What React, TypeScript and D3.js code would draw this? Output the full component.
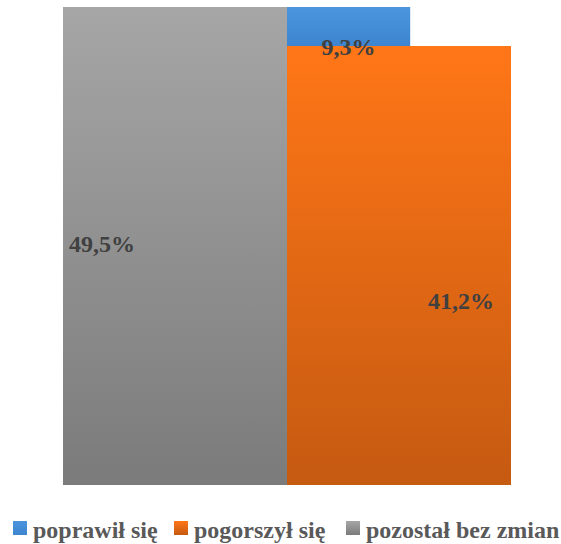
import React from "react";
import * as d3 from "d3";

// Categories and shares (%)
const categories = ["poprawił się", "pogorszył się", "pozostał bez zmian"];
const values = [9.3, 41.2, 49.5];
const valueLabels = ["9,3%", "41,2%", "49,5%"];
// Column each category sits in, and the stacked base within that column
const columns = ["right", "right", "left"];
const stackBase = [41.2, 0, 0];

const colorStops: [string, string][] = [
  ["#4b95de", "#3d86cf"],
  ["#ff7617", "#c55a11"],
  ["#a6a6a6", "#7b7b7b"],
];

const W = 561;
const H = 544;

export default function App() {
  const plot = { left: 63, right: 511, top: 7, bottom: 485 };
  const x = d3
    .scaleBand<string>()
    .domain(["left", "right"])
    .range([plot.left, plot.right])
    .padding(0);
  const y = d3.scaleLinear().domain([-52.2, 49.5]).range([plot.bottom, plot.top]);

  const bars = categories.map((c, i) => {
    const x0 = x(columns[i])!;
    const bw = i === 0 ? x.bandwidth() * 0.55 : x.bandwidth();
    const y1 = Math.max(y(stackBase[i] + values[i]), plot.top);
    const y0 = stackBase[i] === 0 ? plot.bottom : y(stackBase[i]);
    return { c, i, x0, bw, y0, y1 };
  });

  // Label anchors relative to each bar
  const labelPos = [
    (b: any) => [b.x0 + b.bw / 2, b.y0 + 1],
    (b: any) => [b.x0 + b.bw * 0.777, (b.y0 + b.y1) / 2 + 35],
    (b: any) => [b.x0 + 39, (b.y0 + b.y1) / 2 - 2],
  ];

  const legendX = [13, 174, 346];

  return (
    <svg width={W} height={H} style={{ position: "absolute", left: 0, top: 0 }}>
      <defs>
        {colorStops.map((s, i) => (
          <linearGradient key={i} id={`g${i}`} x1="0" y1="0" x2="0" y2="1">
            <stop offset="0" stopColor={s[0]} />
            <stop offset="1" stopColor={s[1]} />
          </linearGradient>
        ))}
      </defs>
      <rect width={W} height={H} fill="#fff" />
      {[2, 1, 0].map((i) => {
        const b = bars[i];
        return (
          <rect
            key={b.c}
            x={b.x0}
            y={b.y1}
            width={b.bw}
            height={b.y0 - b.y1}
            fill={`url(#g${i})`}
          />
        );
      })}
      {bars.map((b) => {
        const [lx, ly] = labelPos[b.i](b);
        return (
          <text
            key={`l${b.i}`}
            x={lx}
            y={ly}
            textAnchor={b.i === 2 ? "start" : "middle"}
            dominantBaseline="central"
            fontFamily="'Liberation Serif', 'Times New Roman', serif"
            fontWeight="bold"
            fontSize={24}
            fill="#404040"
            dx={b.i === 2 ? -33 : 0}
          >
            {valueLabels[b.i]}
          </text>
        );
      })}
      {categories.map((c, i) => (
        <g key={c} transform={`translate(${legendX[i]},0)`}>
          <rect x={0} y={521} width={14} height={14} fill={`url(#g${i})`} />
          <text
            x={20}
            y={538}
            fontFamily="'Liberation Serif', 'Times New Roman', serif"
            fontWeight="bold"
            fontSize={24}
            fill="#595959"
          >
            {c}
          </text>
        </g>
      ))}
    </svg>
  );
}
